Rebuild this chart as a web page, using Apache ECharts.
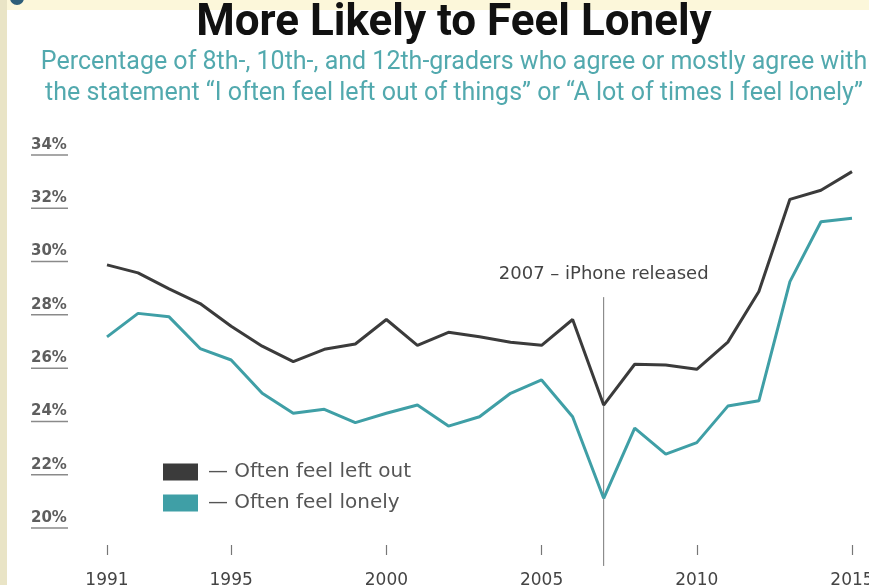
<!DOCTYPE html>
<html>
<head>
<meta charset="utf-8">
<script src="https://cdn.jsdelivr.net/npm/echarts@6/dist/echarts.min.js"></script>
<style>
html,body{margin:0;padding:0;background:#fff;}
#main{width:869px;height:585px;}
</style>
</head>
<body>
<div id="main"></div>
<script>
// ---- data ----
const years = ['1991','1992','1993','1994','1995','1996','1997','1998','1999','2000','2001','2002','2003','2004','2005','2006','2007','2008','2009','2010','2011','2012','2013','2014','2015'];
const leftOut = [29.5, 29.2, 28.6, 28.05, 27.2, 26.45, 25.87, 26.33, 26.53, 27.45, 26.48, 26.97, 26.8, 26.6, 26.48, 27.45, 24.24, 25.77, 25.74, 25.58, 26.6, 28.5, 31.96, 32.3, 33.0];
const lonely = [26.8, 27.68, 27.55, 26.36, 25.93, 24.68, 23.93, 24.08, 23.58, 23.93, 24.24, 23.45, 23.8, 24.68, 25.18, 23.8, 20.74, 23.37, 22.4, 22.83, 24.2, 24.4, 28.87, 31.12, 31.25];
const xTickYears = ['1991','1995','2000','2005','2010','2015'];
const yTicks = [20, 22, 24, 26, 28, 30, 32, 34];
const seriesNames = ['Often feel left out', 'Often feel lonely'];
const eventYear = '2007';
const eventLabel = '2007 – iPhone released';
const titleText = 'More Likely to Feel Lonely';
const subtitleText = 'Percentage of 8th-, 10th-, and 12th-graders who agree or mostly agree with\nthe statement \u201cI often feel left out of things\u201d or \u201cA lot of times I feel lonely\u201d';

const chart = echarts.init(document.getElementById('main'), null, {renderer: 'canvas'});
const TFONT = 'Roboto, "Liberation Sans", sans-serif';
const FONT = '"DejaVu Sans", Roboto, sans-serif';
const BLACK = '#3b3b3b';
const TEAL = '#3f9fa6';

const option = {
  backgroundColor: '#ffffff',
  animation: false,
  title: [{
    text: titleText,
    left: 449,
    textAlign: 'center',
    top: -3,
    textStyle: {fontFamily: TFONT, fontWeight: 'bold', fontSize: 44, color: '#111'}
  }, {
    text: subtitleText,
    left: 449,
    textAlign: 'center',
    top: 42,
    textStyle: {fontFamily: TFONT, fontWeight: 'normal', fontSize: 25, color: '#52a9ae', lineHeight: 31}
  }],
  grid: {left: 107, right: 17, top: 145, bottom: 67, containLabel: false, outerBoundsMode: 'none'},
  legend: {
    orient: 'vertical',
    left: 158,
    top: 457,
    itemWidth: 35,
    itemHeight: 17,
    itemGap: 11,
    icon: 'rect',
    data: seriesNames,
    formatter: n => '\u2014 ' + n,
    textStyle: {fontFamily: FONT, fontSize: 20, color: '#555', padding: [0, 0, 0, 5]}
  },
  xAxis: {
    type: 'category',
    data: years,
    boundaryGap: false,
    offset: 27,
    axisLine: {show: false},
    axisTick: {show: true, length: 10, lineStyle: {color: '#777', width: 1.2},
      interval: (i, v) => xTickYears.includes(v)},
    axisLabel: {interval: (i, v) => xTickYears.includes(v), margin: 27,
      fontFamily: FONT, fontSize: 17, color: '#444'},
    splitLine: {show: false}
  },
  yAxis: {
    type: 'value',
    min: 20, max: 34, interval: 2,
    axisLine: {show: false},
    axisTick: {show: false},
    splitLine: {show: false},
    axisLabel: {
      formatter: v => v + '%',
      align: 'left',
      margin: 76,
      fontFamily: FONT, fontSize: 15, fontWeight: 'bold', color: '#5e5e5e'
    }
  },
  series: [{
    name: seriesNames[0],
    type: 'line',
    data: leftOut,
    symbol: 'none',
    z: 3,
    lineStyle: {color: BLACK, width: 3},
    itemStyle: {color: BLACK}
  }, {
    name: seriesNames[1],
    type: 'line',
    data: lonely,
    symbol: 'none',
    z: 3,
    lineStyle: {color: TEAL, width: 3},
    itemStyle: {color: TEAL}
  }]
};
chart.setOption(option);

// event marker line + label, placed through the chart's own scales
const pTop = chart.convertToPixel({gridIndex: 0}, [eventYear, 28.29]);
const pBot = chart.convertToPixel({gridIndex: 0}, [eventYear, 18.2]);
const pLab = chart.convertToPixel({gridIndex: 0}, [eventYear, 29.15]);
const underlines = yTicks.map(v => {
  const p = chart.convertToPixel({gridIndex: 0}, [years[0], v]);
  return {type: 'line', silent: true, shape: {x1: 31, y1: p[1] + 10, x2: 68, y2: p[1] + 10},
    style: {stroke: '#8a8a8a', lineWidth: 1.5}};
});
chart.setOption({
  graphic: [
    {type: 'rect', silent: true, z: -1, shape: {x: 0, y: 0, width: 869, height: 10}, style: {fill: '#fcf7da'}},
    {type: 'rect', silent: true, z: -1, shape: {x: 0, y: 0, width: 7, height: 585}, style: {fill: '#e9e4c6'}},
    {type: 'circle', silent: true, shape: {cx: 17, cy: -2, r: 7}, style: {fill: '#2f5f7a'}},
    {type: 'line', silent: true, z: 1, shape: {x1: pTop[0], y1: pTop[1], x2: pBot[0], y2: pBot[1]},
      style: {stroke: '#777', lineWidth: 1}},
    {type: 'text', silent: true, x: pLab[0], y: pLab[1],
      style: {text: eventLabel, textAlign: 'center', textVerticalAlign: 'middle',
        font: '18px ' + FONT, fill: '#444'}}
  ].concat(underlines)
});
</script>
</body>
</html>
